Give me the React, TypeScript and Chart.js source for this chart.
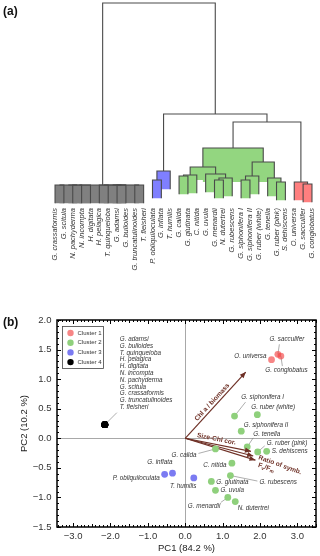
import React, { useEffect, useRef } from 'react';
import { Chart, registerables } from 'chart.js';

Chart.register(...registerables);

const FONT = '"Liberation Sans", Arial, Helvetica, sans-serif';

// ---------- (a) dendrogram data ----------
const LEAVES = [
  'G. crassaformis', 'G. scitula', 'N. pachyderma', 'N. incompta', 'H. digitata', 'H. pelagica',
  'T. quinqueloba', 'G. adamsi', 'G. bulloides', 'G. truncatulinoides', 'T. fleisheri',
  'P. obliquiloculata', 'G. inflata', 'T. humilis',
  'G. calida', 'G. glutinata', 'C. nitida', 'G. uvula', 'G. menardii', 'N. dutertrei', 'G. rubescens',
  'G. siphonifera I', 'G. siphonifera II', 'G. ruber (white)', 'G. tenella', 'G. ruber (pink)', 'S. dehiscens',
  'O. universa', 'G. sacculifer', 'G. conglobatus',
];
const LEAF_CLUSTER = [4, 4, 4, 4, 4, 4, 4, 4, 4, 4, 4, 3, 3, 3, 2, 2, 2, 2, 2, 2, 2, 2, 2, 2, 2, 2, 2, 1, 1, 1];
// hclust-style merge list: negative = leaf (-(index+1)), positive = earlier merge (1-based); third value = height
const MERGES: [number, number, number][] = [
  [-1, -2, 0], [-3, -4, 0], [1, 2, 0], [3, -5, 0], [-6, -7, 0], [-8, -9, 0], [5, 6, 0], [-10, -11, 0], [7, 8, 0], [4, 9, 0],
  [-12, -13, 2.7], [11, -14, 7.7],
  [-15, -16, 4.9], [13, -17, 5.5], [-19, -20, 2.7], [15, -21, 3.8], [-18, 16, 6.0], [14, 17, 9.9],
  [-22, -23, 2.7], [19, -24, 4.9], [-26, -27, 1.6], [-25, 21, 3.8], [20, 22, 12.6], [18, 23, 20.3],
  [-29, -30, 0.5], [-28, 25, 1.6],
  [24, 26, 34.6], [12, 27, 39.0], [10, 28, 100],
];
const HANG = 10;

// ---------- (b) PCA data (same species order as LEAVES) ----------
const PC1 = [
  -2.15, -2.15, -2.15, -2.15, -2.15, -2.15, -2.15, -2.15, -2.15, -2.15, -2.15,
  -0.55, -0.34, 0.23,
  0.81, 0.70, 1.25, 0.81, 1.14, 1.34, 1.21, 1.32, 1.50, 1.93, 1.66, 1.94, 2.18,
  2.31, 2.48, 2.56,
];
const PC2 = [
  0.23, 0.23, 0.23, 0.23, 0.23, 0.23, 0.23, 0.23, 0.23, 0.23, 0.23,
  -0.61, -0.59, -0.67,
  -0.18, -0.73, -0.42, -0.88, -1.0, -1.07, -0.63, 0.375, 0.12, 0.40, -0.145, -0.23, -0.22,
  1.33, 1.42, 1.39,
];
const CLUSTER_NAMES = ['Cluster 1', 'Cluster 2', 'Cluster 3', 'Cluster 4'];
const BLACK_LIST = [
  'G. adamsi', 'G. bulloides', 'T. quinqueloba', 'H. pelagica', 'H. digitata', 'N. incompta',
  'N. pachyderma', 'G. scitula', 'G. crassaformis', 'G. truncatulinoides', 'T. fleisheri',
];
const VECTOR_NAMES = ['Chl a / biomass', 'Size-Chl cor.', 'Ratio of symb.', 'F_v/F_m'];
const VECTOR_PC1 = [1.62, 1.76, 1.82, 1.88];
const VECTOR_PC2 = [1.12, -0.22, -0.30, -0.37];
const X_TICKS = [-3, -2, -1, 0, 1, 2, 3];
const Y_TICKS = [-1.5, -1, -0.5, 0, 0.5, 1, 1.5, 2];

// ---------- styles ----------
const DENDRO_FILL: Record<number, string> = { 1: '#ff7f7f', 2: '#93d680', 3: '#7f7fff', 4: '#808080' };
const DENDRO_LINE = '#4a4a4a';
const POINT_COLORS: Record<number, string> = {
  1: 'rgba(242,60,60,0.62)', 2: '#8fd07c', 3: '#7b7bf2', 4: '#000000',
};
const ARROW_COLOR = '#6e3026';

const LABEL_LAYOUT: Record<string, { dx: number; dy: number; align: CanvasTextAlign; lx?: number; ly?: number }> = {
  'G. sacculifer': { dx: -8.5, dy: -15, align: 'left', lx: 1.5, ly: -10 },
  'O. universa': { dx: -5, dy: -3.8, align: 'right' },
  'G. conglobatus': { dx: -15.5, dy: 14, align: 'left', lx: 1.5, ly: 10 },
  'G. siphonifera I': { dx: 6.7, dy: -19, align: 'left', lx: 11, ly: -14 },
  'G. ruber (white)': { dx: -6, dy: -7, align: 'left' },
  'G. siphonifera II': { dx: 2.5, dy: -6, align: 'left' },
  'G. tenella': { dx: 6, dy: -13, align: 'left', lx: 6, ly: -9 },
  'G. ruber (pink)': { dx: 9, dy: -9, align: 'left', lx: 7, ly: -6 },
  'S. dehiscens': { dx: 5, dy: 0, align: 'left' },
  'G. calida': { dx: -19, dy: 6.6, align: 'right', lx: -17, ly: 4.5 },
  'C. nitida': { dx: -5.5, dy: 2.5, align: 'right' },
  'G. rubescens': { dx: 29, dy: 6.4, align: 'left', lx: 27, ly: 5.5 },
  'G. glutinata': { dx: 5, dy: 1, align: 'left' },
  'G. uvula': { dx: 5, dy: 0, align: 'left' },
  'G. menardii': { dx: -7.5, dy: 9, align: 'right', lx: -7, ly: 5 },
  'N. dutertrei': { dx: 2.5, dy: 6.5, align: 'left' },
  'G. inflata': { dx: 0, dy: -11, align: 'right' },
  'P. obliquiloculata': { dx: -5, dy: 4.3, align: 'right' },
  'T. humilis': { dx: 2.6, dy: 8.4, align: 'right' },
};
const BLACK_LAYOUT = { dx: 15, dy: -85.3, lx: 12, ly: -12, lineGap: 6.77 };
const VECTOR_LAYOUT = [
  { f: 0.5, p: 4.5, rot: 0 },
  { f: 0.46, p: 5.3, rot: 0 },
  { f: 1.4, p: -1.9, rot: 5 },
  { f: 1.17, p: -3.9, rot: 0 },
];

function buildDendrogram() {
  const nodes: { x: number; h: number; rb: number; minH: number; leaves: number[] }[] = [];
  const datasets: any[] = [];
  MERGES.forEach(([a, b, h]) => {
    const kids = [a, b].map((ref) => {
      if (ref < 0) {
        const i = -ref - 1;
        return { x: i, leg: h - HANG, rb: h - HANG, minH: Infinity, leaves: [i] };
      }
      const n = nodes[ref - 1];
      return { x: n.x, leg: n.h, rb: n.h < h ? n.minH : n.rb, minH: n.minH, leaves: n.leaves };
    });
    const [A, B] = kids;
    const rb = Math.min(A.rb, B.rb);
    const minH = Math.min(h, A.minH, B.minH);
    const leaves = [...A.leaves, ...B.leaves];
    const c0 = LEAF_CLUSTER[leaves[0]];
    const cl = leaves.every((l) => LEAF_CLUSTER[l] === c0) ? c0 : 0;
    nodes.push({ x: (A.x + B.x) / 2, h, rb, minH, leaves });
    if (cl) {
      datasets.push({
        type: 'line',
        data: [{ x: A.x, y: rb }, { x: A.x, y: h }, { x: B.x, y: h }, { x: B.x, y: rb }],
        fill: 'shape',
        backgroundColor: DENDRO_FILL[cl],
        borderColor: 'transparent',
        borderWidth: 0,
        pointRadius: 0,
        clip: false,
        order: h * 10 + 1,
      });
    }
    datasets.push({
      type: 'line',
      data: [{ x: A.x, y: A.leg }, { x: A.x, y: h }, { x: B.x, y: h }, { x: B.x, y: B.leg }],
      fill: false,
      borderColor: DENDRO_LINE,
      borderWidth: 1.1,
      pointRadius: 0,
      clip: false,
      order: h * 10,
    });
  });
  return datasets;
}

function Dendrogram() {
  const ref = useRef<HTMLCanvasElement>(null);
  useEffect(() => {
    const chart = new Chart(ref.current!, {
      type: 'line',
      data: { datasets: buildDendrogram() },
      options: {
        responsive: false,
        animation: false,
        devicePixelRatio: 1,
        events: [],
        layout: { padding: { left: 50.6, right: 3.6, top: 3, bottom: 0 } },
        plugins: { legend: { display: false }, tooltip: { enabled: false } },
        scales: {
          x: {
            type: 'linear',
            min: -0.5,
            max: LEAVES.length - 0.5,
            grid: { display: false, drawTicks: false },
            border: { display: false },
            afterBuildTicks: (s: any) => {
              s.ticks = LEAVES.map((_, i) => ({ value: i }));
            },
            afterFit: (s: any) => {
              s.height = 85;
              s.paddingLeft = 0;
              s.paddingRight = 0;
            },
            ticks: {
              autoSkip: false,
              minRotation: 90,
              maxRotation: 90,
              padding: 3,
              color: '#333',
              font: { family: FONT, size: 7.5, style: 'italic' },
              callback: (v: any) => LEAVES[v as number] ?? '',
            },
          },
          y: { type: 'linear', display: false, min: -11, max: 100 },
        },
      } as any,
    });
    return () => chart.destroy();
  }, []);
  return <canvas ref={ref} width={320} height={290} style={{ position: 'absolute', left: 0, top: 0 }} />;
}

function fmt(v: number) {
  return (v < 0 ? '\u2212' : '') + Math.abs(v).toFixed(1);
}

function drawRich(ctx: CanvasRenderingContext2D, text: string, size: number, weight: string) {
  const parts: { t: string; sub: boolean }[] = [];
  for (let i = 0; i < text.length; i++) {
    if (text[i] === '_' && i + 1 < text.length) {
      parts.push({ t: text[i + 1], sub: true });
      i++;
    } else if (parts.length && !parts[parts.length - 1].sub) {
      parts[parts.length - 1].t += text[i];
    } else {
      parts.push({ t: text[i], sub: false });
    }
  }
  const fontFor = (p: { sub: boolean }) => `${weight} ${p.sub ? size * 0.72 : size}px ${FONT}`;
  let total = 0;
  parts.forEach((p) => {
    ctx.font = fontFor(p);
    total += ctx.measureText(p.t).width;
  });
  let cx = -total / 2;
  ctx.textAlign = 'left';
  ctx.textBaseline = 'middle';
  parts.forEach((p) => {
    ctx.font = fontFor(p);
    ctx.fillText(p.t, cx, p.sub ? size * 0.3 : 0);
    cx += ctx.measureText(p.t).width;
  });
}

const biplotPlugin = {
  id: 'biplotDecor',
  beforeDatasetsDraw(chart: any) {
    const { ctx, chartArea: ca, scales } = chart;
    const x = scales.x, y = scales.y;
    ctx.save();
    ctx.strokeStyle = '#a8a8a8';
    ctx.lineWidth = 1;
    const x0 = Math.round(x.getPixelForValue(0)) + 0.5;
    const y0 = Math.round(y.getPixelForValue(0)) + 0.5;
    ctx.beginPath();
    ctx.moveTo(x0, ca.top);
    ctx.lineTo(x0, ca.bottom);
    ctx.moveTo(ca.left, y0);
    ctx.lineTo(ca.right, y0);
    ctx.stroke();
    // leader lines
    ctx.strokeStyle = '#777';
    ctx.lineWidth = 0.6;
    ctx.beginPath();
    let blackDone = false;
    LEAVES.forEach((name, i) => {
      const px = x.getPixelForValue(PC1[i]);
      const py = y.getPixelForValue(PC2[i]);
      if (LEAF_CLUSTER[i] === 4) {
        if (blackDone) return;
        blackDone = true;
        ctx.moveTo(px, py);
        ctx.lineTo(px + BLACK_LAYOUT.lx, py + BLACK_LAYOUT.ly);
        return;
      }
      const L = LABEL_LAYOUT[name];
      if (L && L.lx !== undefined) {
        ctx.moveTo(px, py);
        ctx.lineTo(px + L.lx, py + (L.ly as number));
      }
    });
    ctx.stroke();
    ctx.restore();
  },
  afterDatasetsDraw(chart: any) {
    const { ctx, scales } = chart;
    const x = scales.x, y = scales.y;
    const ox = x.getPixelForValue(0), oy = y.getPixelForValue(0);
    ctx.save();
    ctx.fillStyle = ARROW_COLOR;
    VECTOR_NAMES.forEach((_, k) => {
      const tx = x.getPixelForValue(VECTOR_PC1[k]);
      const ty = y.getPixelForValue(VECTOR_PC2[k]);
      const ang = Math.atan2(ty - oy, tx - ox);
      ctx.save();
      ctx.translate(tx, ty);
      ctx.rotate(ang);
      ctx.beginPath();
      ctx.moveTo(0, 0);
      ctx.lineTo(-6, -2.6);
      ctx.lineTo(-6, 2.6);
      ctx.closePath();
      ctx.fill();
      ctx.restore();
    });
    ctx.restore();
  },
  afterDraw(chart: any) {
    const { ctx, chartArea: ca, scales } = chart;
    const x = scales.x, y = scales.y;
    ctx.save();
    // frame
    ctx.strokeStyle = '#000';
    ctx.lineWidth = 1.5;
    ctx.strokeRect(ca.left, ca.top, ca.right - ca.left, ca.bottom - ca.top);
    // inward ticks
    ctx.lineWidth = 1;
    ctx.beginPath();
    for (let v = Math.ceil(y.min * 10); v <= Math.floor(y.max * 10); v++) {
      const py = Math.round(y.getPixelForValue(v / 10)) + 0.5;
      const len = v % 5 === 0 ? 4 : 2;
      ctx.moveTo(ca.left, py);
      ctx.lineTo(ca.left + len, py);
      ctx.moveTo(ca.right, py);
      ctx.lineTo(ca.right - len, py);
    }
    for (let v = Math.ceil(x.min * 10); v <= Math.floor(x.max * 10); v++) {
      const px = Math.round(x.getPixelForValue(v / 10)) + 0.5;
      const len = v % 10 === 0 ? 4 : v % 5 === 0 ? 3 : 2;
      ctx.moveTo(px, ca.bottom);
      ctx.lineTo(px, ca.bottom - len);
      ctx.moveTo(px, ca.top);
      ctx.lineTo(px, ca.top + len);
    }
    ctx.stroke();

    // point labels
    ctx.fillStyle = '#333';
    ctx.font = `italic 6.3px ${FONT}`;
    ctx.textBaseline = 'middle';
    let blackDone = false;
    LEAVES.forEach((name, i) => {
      const px = x.getPixelForValue(PC1[i]);
      const py = y.getPixelForValue(PC2[i]);
      if (LEAF_CLUSTER[i] === 4) {
        if (blackDone) return;
        blackDone = true;
        ctx.textAlign = 'left';
        BLACK_LIST.forEach((n, j) => {
          ctx.fillText(n, px + BLACK_LAYOUT.dx, py + BLACK_LAYOUT.dy + j * BLACK_LAYOUT.lineGap);
        });
        return;
      }
      const L = LABEL_LAYOUT[name];
      if (!L) return;
      ctx.textAlign = L.align;
      ctx.fillText(name, px + L.dx, py + L.dy);
    });

    // vector labels
    const ox = x.getPixelForValue(0), oy = y.getPixelForValue(0);
    ctx.fillStyle = ARROW_COLOR;
    VECTOR_NAMES.forEach((name, k) => {
      const tx = x.getPixelForValue(VECTOR_PC1[k]);
      const ty = y.getPixelForValue(VECTOR_PC2[k]);
      const len = Math.hypot(tx - ox, ty - oy);
      const ux = (tx - ox) / len, uy = (ty - oy) / len;
      const nx = uy, ny = -ux;
      const V = VECTOR_LAYOUT[k];
      const cx = ox + ux * len * V.f + nx * V.p;
      const cy = oy + uy * len * V.f + ny * V.p;
      ctx.save();
      ctx.translate(cx, cy);
      ctx.rotate(Math.atan2(uy, ux) + (V.rot * Math.PI) / 180);
      drawRich(ctx, name, 6.6, 'bold');
      ctx.restore();
    });

    // legend
    const lx = ca.left + 5.5, ly = ca.top + 6.5, lw = 41, lh = 42;
    ctx.fillStyle = '#fff';
    ctx.fillRect(lx, ly, lw, lh);
    ctx.strokeStyle = '#444';
    ctx.lineWidth = 0.8;
    ctx.strokeRect(lx, ly, lw, lh);
    CLUSTER_NAMES.forEach((n, k) => {
      const cy = ly + 6.5 + k * 9.7;
      ctx.fillStyle = chart.data.datasets[k].backgroundColor;
      ctx.beginPath();
      ctx.arc(lx + 8, cy, 3.2, 0, Math.PI * 2);
      ctx.fill();
      ctx.fillStyle = '#333';
      ctx.font = `6px ${FONT}`;
      ctx.textAlign = 'left';
      ctx.textBaseline = 'middle';
      ctx.fillText(n, lx + 15, cy);
    });
    ctx.restore();
  },
};

function Biplot() {
  const ref = useRef<HTMLCanvasElement>(null);
  useEffect(() => {
    const clusterSets = [1, 2, 3, 4].map((c, k) => ({
      type: 'scatter',
      label: CLUSTER_NAMES[k],
      data: LEAVES.map((_, i) => ({ x: PC1[i], y: PC2[i], c: LEAF_CLUSTER[i] }))
        .filter((p) => p.c === c)
        .map((p) => ({ x: p.x, y: p.y })),
      backgroundColor: POINT_COLORS[c],
      borderWidth: 0,
      pointRadius: 3.4,
      order: 0,
    }));
    const vectorSets = VECTOR_NAMES.map((n, k) => ({
      type: 'line',
      label: n,
      data: [{ x: 0, y: 0 }, { x: VECTOR_PC1[k], y: VECTOR_PC2[k] }],
      showLine: true,
      borderColor: ARROW_COLOR,
      borderWidth: 1.2,
      pointRadius: 0,
      fill: false,
      order: 1,
    }));
    const chart = new Chart(ref.current!, {
      type: 'scatter',
      data: { datasets: [...clusterSets, ...vectorSets] as any },
      options: {
        responsive: false,
        animation: false,
        devicePixelRatio: 1,
        events: [],
        layout: { padding: { left: 0, right: 3, top: 30, bottom: 0 } },
        plugins: { legend: { display: false }, tooltip: { enabled: false } },
        scales: {
          x: {
            type: 'linear',
            min: -3.43,
            max: 3.5,
            grid: { display: false, drawTicks: false },
            border: { display: false },
            afterBuildTicks: (s: any) => {
              s.ticks = X_TICKS.map((v) => ({ value: v }));
            },
            afterFit: (s: any) => {
              s.height = 29;
            },
            ticks: {
              padding: 4,
              color: '#333',
              font: { family: FONT, size: 9.5 },
              callback: (v: any) => fmt(Number(v)),
            },
            title: {
              display: true,
              text: 'PC1 (84.2 %)',
              color: '#222',
              font: { family: FONT, size: 9.5 },
              padding: { top: 0, bottom: 2 },
            },
          },
          y: {
            type: 'linear',
            min: -1.5,
            max: 2.0,
            grid: { display: false, drawTicks: false },
            border: { display: false },
            afterBuildTicks: (s: any) => {
              s.ticks = Y_TICKS.map((v) => ({ value: v }));
            },
            afterFit: (s: any) => {
              s.width = 57;
            },
            ticks: {
              padding: 5.5,
              color: '#333',
              font: { family: FONT, size: 9.5 },
              callback: (v: any) => fmt(Number(v)),
            },
            title: {
              display: true,
              text: 'PC2 (10.2 %)',
              color: '#222',
              font: { family: FONT, size: 9.5 },
              padding: { top: 19, bottom: 0 },
            },
          },
        },
      } as any,
      plugins: [biplotPlugin as any],
    });
    return () => chart.destroy();
  }, []);
  return <canvas ref={ref} width={320} height={266} style={{ position: 'absolute', left: 0, top: 290 }} />;
}

export default function App() {
  const labelStyle: React.CSSProperties = {
    position: 'absolute',
    left: 3,
    font: `bold 12px ${FONT}`,
    lineHeight: '14px',
    color: '#111',
  };
  return (
    <div style={{ position: 'absolute', left: 0, top: 0, width: 320, height: 556, background: '#fff' }}>
      <Dendrogram />
      <Biplot />
      <div style={{ ...labelStyle, top: 4 }}>(a)</div>
      <div style={{ ...labelStyle, top: 315 }}>(b)</div>
    </div>
  );
}
